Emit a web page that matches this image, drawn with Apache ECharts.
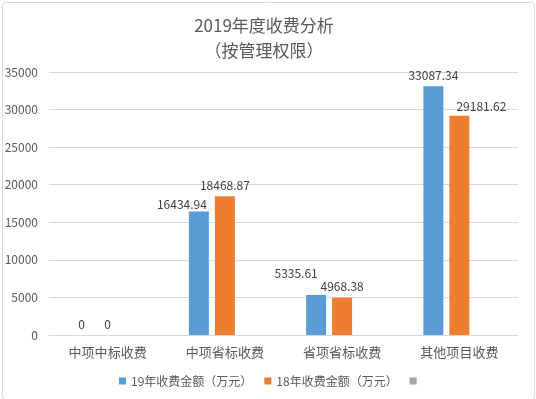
<!DOCTYPE html>
<html><head><meta charset="utf-8">
<script src="https://cdn.jsdelivr.net/npm/echarts@6/dist/echarts.min.js"></script>
<style>html,body{margin:0;padding:0;background:#fff}#c{width:536px;height:399px}</style>
</head><body><div id="c"></div>
<script>
var categories = ['中项中标收费', '中项省标收费', '省项省标收费', '其他项目收费'];
var series19 = [0, 16434.94, 5335.61, 33087.34];
var series18 = [0, 18468.87, 4968.38, 29181.62];
var series3 = [null, null, null, null];
var seriesNames = ['19年收费金额（万元）', '18年收费金额（万元）', ' '];
var yTicks = { min: 0, max: 35000, interval: 5000 };
var titleLines = ['2019年度收费分析', '（按管理权限）'];

var font = '"Noto Sans CJK SC", "Microsoft YaHei", sans-serif';
var labelOffsets19 = [[0,0],[-17,4],[-20,-10],[0,0]];
var labelOffsets18 = [[0,0],[0,0],[0,0],[22,2]];

function withLabels(vals, offs) {
  return vals.map(function (v, i) {
    return { value: v, label: { offset: offs[i] } };
  });
}

var chart = echarts.init(document.getElementById('c'), null, { renderer: 'canvas' });
chart.setOption({
  animation: false,
  textStyle: { fontFamily: font },
  title: {
    text: titleLines.join('\n'),
    left: 259, top: 8, textAlign: 'center',
    textStyle: { fontSize: 17, fontWeight: 'normal', color: '#595959', lineHeight: 25, fontFamily: font }
  },
  graphic: [{
    type: 'rect', left: 0, top: 0,
    shape: { x: 0.5, y: 0.5, width: 532, height: 397, r: 3 },
    style: { fill: 'none', stroke: '#d9d9d9', lineWidth: 1 }
  }],
  legend: {
    data: seriesNames,
    left: 114, top: 370,
    icon: 'rect', itemWidth: 7, itemHeight: 7, itemGap: 12,
    textStyle: { fontSize: 12, color: '#595959', fontFamily: font }
  },
  grid: { left: 49, right: 18, top: 72, bottom: 64, containLabel: false },
  xAxis: {
    type: 'category', data: categories,
    axisLine: { lineStyle: { color: '#d9d9d9' } },
    axisTick: { show: false },
    axisLabel: { color: '#595959', fontSize: 13, margin: 11, fontFamily: font }
  },
  yAxis: {
    type: 'value', min: yTicks.min, max: yTicks.max, interval: yTicks.interval,
    axisLine: { show: false }, axisTick: { show: false },
    splitLine: { lineStyle: { color: '#d9d9d9' } },
    axisLabel: { color: '#595959', fontSize: 12, margin: 11, fontFamily: font,
      formatter: function (v) { return String(v); } }
  },
  series: [
    { name: seriesNames[0], type: 'bar', data: withLabels(series19, labelOffsets19),
      itemStyle: { color: '#5B9BD5' }, barWidth: 20, barGap: '30%',
      label: { show: true, position: 'top', distance: 5, color: '#404040', fontSize: 12, fontFamily: font } },
    { name: seriesNames[1], type: 'bar', data: withLabels(series18, labelOffsets18),
      itemStyle: { color: '#ED7D31' }, barWidth: 20, barGap: '30%',
      label: { show: true, position: 'top', distance: 5, color: '#404040', fontSize: 12, fontFamily: font } },
    { name: seriesNames[2], type: 'bar', data: series3,
      itemStyle: { color: '#A5A5A5' }, barWidth: 20, barGap: '30%' }
  ]
});
</script></body></html>
